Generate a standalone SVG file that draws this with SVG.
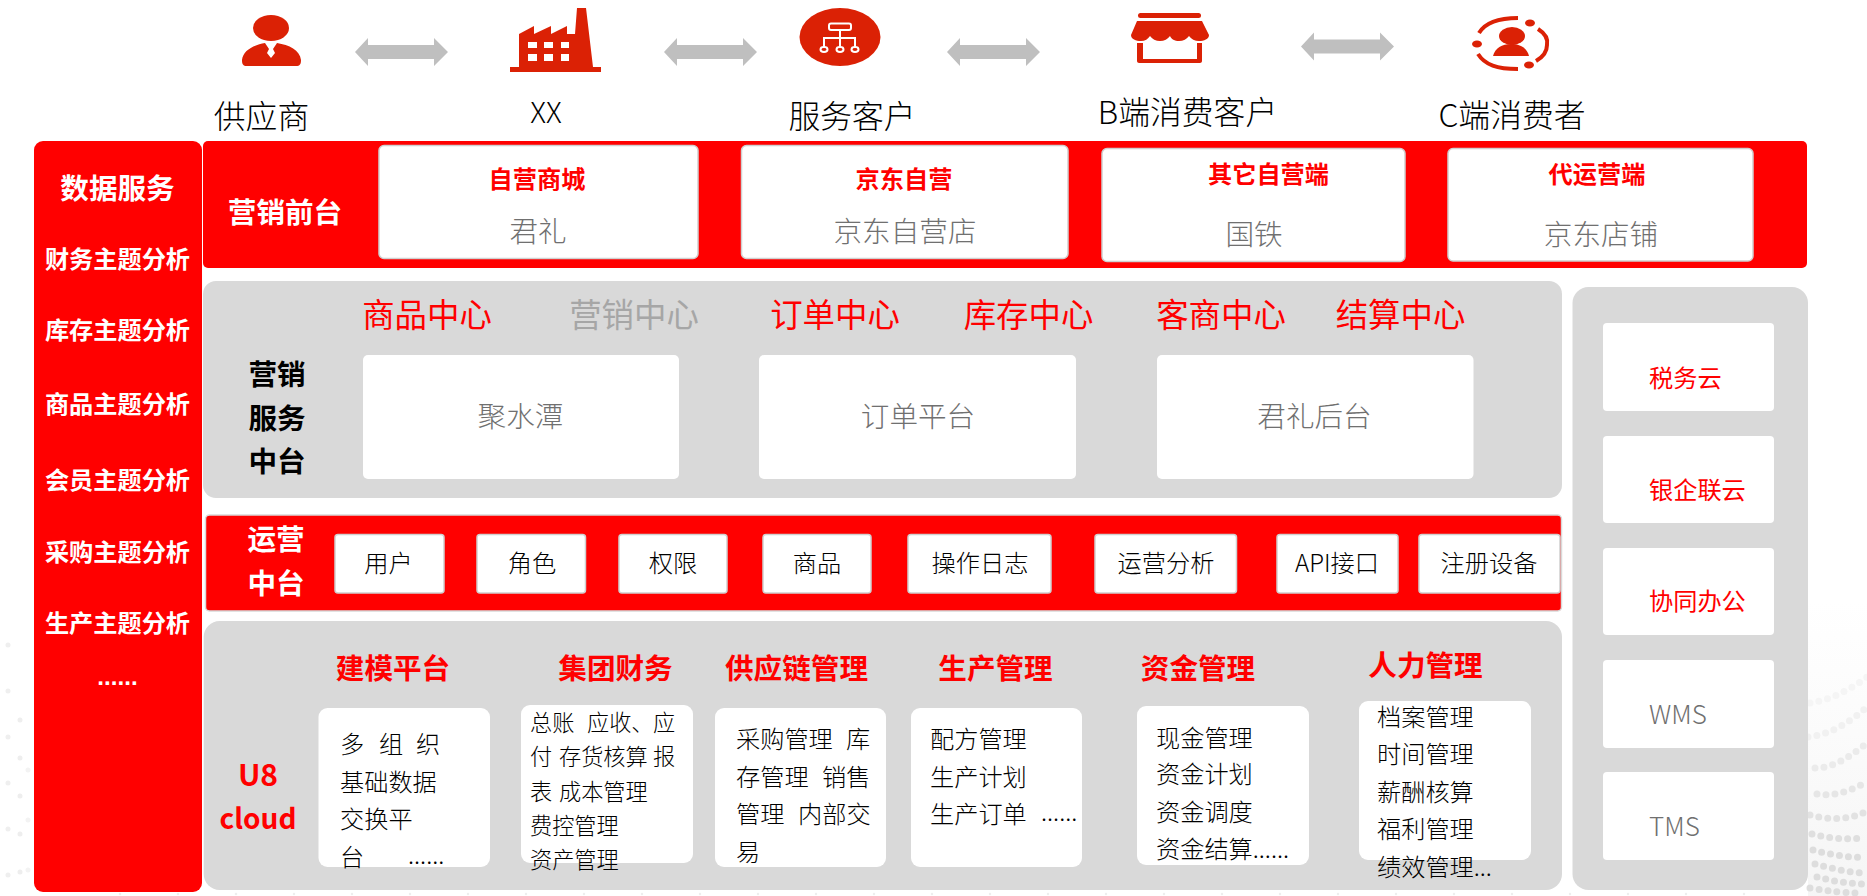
<svg xmlns="http://www.w3.org/2000/svg" width="1867" height="896" viewBox="0 0 1867 896">
<defs>
<style>
text{font-family:"Noto Sans CJK SC","Liberation Sans",sans-serif;dominant-baseline:central;transform:translate(-1px,-2px)}
.m{text-anchor:middle;transform:translateY(-2px)}
.s24{font-size:24.2px}.s22{font-size:22.2px}.s28{font-size:28.6px}.s32{font-size:32.4px;transform:translateY(-3px)}
.hd{font-size:31.8px;transform:translateY(-3px)}
.lat{font-size:26px}
.lt{font-weight:300}
.b{font-weight:700}
.red{fill:#f00}.wh{fill:#fff}.gy{fill:#707070}.bk{fill:#000}.lg{fill:#a6a6a6}
.ic{fill:#db2105}
.wbox{fill:#fff}
.wb2{fill:#fff;stroke:#d0d0d0;stroke-width:1.5}
.panel{fill:#d9d9d9}
.redp{fill:#f00}
.arr{fill:#bfbfbf}
.wave{fill:none;stroke-linecap:round;stroke-width:7;stroke-dasharray:0 9}
</style>
<linearGradient id="fade" x1="0" y1="0" x2="0" y2="1"><stop offset="0" stop-color="#f7f7f7" stop-opacity="0"/><stop offset="1" stop-color="#f5f5f5"/></linearGradient>
<polygon id="dbl" points="0,14 13,0 13,7 79,7 79,0 93,14 79,28 79,21 13,21 13,28"/>
</defs>
<rect width="1867" height="896" fill="#fff"/>
<g id="background-texture">
<rect x="1808" y="600" width="59" height="296" fill="url(#fade)"/>
<g class="wave">
<path stroke="#f5f5f5" d="M1810 703C1830 700 1850 690 1867 677"/>
<path stroke="#f1f1f1" d="M1808 737C1830 735 1850 722 1867 707"/>
<path stroke="#ebebeb" d="M1815 768C1835 768 1852 755 1867 743"/>
<path stroke="#e6e6e6" d="M1817 794C1835 797 1852 790 1867 782"/>
<path stroke="#e2e2e2" d="M1810 815C1828 820 1848 820 1863 813"/>
<path stroke="#dfdfdf" d="M1812 834C1828 838 1845 840 1860 838"/>
<path stroke="#dddddd" d="M1813 850C1828 854 1848 858 1863 857"/>
<path stroke="#dddddd" d="M1815 864C1830 868 1850 873 1867 873"/>
<path stroke="#dddddd" d="M1817 877C1832 881 1850 884 1867 884"/>
<path stroke="#dddddd" d="M1810 888C1828 891 1845 893 1860 893"/>
</g>
<g fill="none" stroke-linecap="round" stroke-width="5">
<path stroke="#efefef" stroke-dasharray="0 46" d="M8 645V890"/>
<path stroke="#eeeeee" stroke-dasharray="0 38" d="M20 720V890"/>
<path stroke="#f3f3f3" stroke-dasharray="0 50" d="M28 770V890"/>
<path stroke="#eeeeee" stroke-width="2.500" stroke-dasharray="0 58" d="M120 894H1800"/>
</g>
</g>

<g id="top-supplier">
<ellipse class="ic" cx="271" cy="28" rx="18" ry="13"/>
<path class="ic" d="M242 60C243 50 254 45 265 43L269 49L267 53L271 58L275 53L273 49L277 43C289 45 300 50 301 60C301 64 300 66 296 66L247 66C243 66 242 64 242 60Z"/>
<text class="hd lt bk m" x="261.500" y="117">供应商</text>
</g>
<g id="top-xx">
<path class="ic" fill-rule="evenodd" d="M510 67H519V34L534 26V34L551 26V34L567 26V34L575 34L577 8H586L593 67H601V72H510ZM528 42V48H537V42ZM544 42V48H553V42ZM561 42V48H569V42ZM528 54V61H537V54ZM544 54V61H553V54ZM561 54V61H569V54Z"/>
<text class="lt bk m" font-size="29" x="546" y="112">XX</text>
</g>
<g id="top-service">
<ellipse class="ic" cx="840" cy="37" rx="40.5" ry="29"/>
<g fill="none" stroke="#fff" stroke-width="2">
<rect x="829" y="23.500" width="22" height="6.500" rx="2"/>
<path d="M840 30V38M824 47V38H855V47M840 38V47"/>
<ellipse cx="824" cy="49.500" rx="3.500" ry="2.400"/><ellipse cx="840" cy="49.500" rx="3.500" ry="2.400"/><ellipse cx="855" cy="49.500" rx="3.500" ry="2.400"/>
</g>
<text class="hd lt bk m" x="852" y="117">服务客户</text>
</g>
<g id="top-b">
<rect class="ic" x="1138" y="13" width="63" height="5" rx="2.500"/>
<path class="ic" d="M1137 21H1202L1209 35C1209 39 1204 41 1199 41C1195 41 1191 39 1189 36C1187 39 1183 41 1179 41C1175 41 1171 39 1170 36C1168 39 1164 41 1160 41C1156 41 1152 39 1150 36C1148 39 1145 41 1141 41C1136 41 1131 39 1131 35Z"/>
<path class="ic" d="M1137 43H1143V59H1197V43H1202V61C1202 62 1201 63 1200 63H1139C1138 63 1137 62 1137 61Z"/>
<text class="hd lt bk m" x="1187.500" y="112.500">B端消费客户</text>
</g>
<g id="top-c">
<ellipse class="ic" cx="1512" cy="36" rx="13" ry="9"/>
<path class="ic" d="M1493 56C1495 48 1502 44 1511 44C1520 44 1527 48 1529 56Z"/>
<g fill="none" stroke="#db2105" stroke-width="4">
<path d="M1479 33C1485 23 1497 18 1518 18"/>
<path d="M1538 29C1546 34 1548 40 1547 45C1547 52 1543 57 1536 61"/>
<path d="M1478 54C1485 65 1497 69 1518 69"/>
</g>
<ellipse class="ic" cx="1530" cy="23" rx="5" ry="3.500"/>
<ellipse class="ic" cx="1477" cy="44" rx="5" ry="3.500"/>
<ellipse class="ic" cx="1529" cy="65" rx="5" ry="3.500"/>
<text class="hd lt bk m" x="1512" y="116">C端消费者</text>
</g>

<g id="connectors" class="arr">
<use href="#dbl" x="355" y="38"/>
<use href="#dbl" x="664" y="38"/>
<use href="#dbl" x="947" y="38"/>
<use href="#dbl" x="1301" y="32.500"/>
</g>

<g id="data-service">
<rect class="redp" x="34" y="141" width="168" height="751" rx="9"/>
<text class="s28 b wh m" x="117.500" y="188">数据服务</text>
<text class="s24 b wh m" x="117.500" y="259">财务主题分析</text>
<text class="s24 b wh m" x="117.500" y="330.500">库存主题分析</text>
<text class="s24 b wh m" x="117.500" y="404.500">商品主题分析</text>
<text class="s24 b wh m" x="117.500" y="480">会员主题分析</text>
<text class="s24 b wh m" x="117.500" y="552">采购主题分析</text>
<text class="s24 b wh m" x="117.500" y="623">生产主题分析</text>
<text class="s24 b wh m" x="117.500" y="678" style="font-family:'Liberation Sans',sans-serif">......</text>
</g>

<g id="marketing-front">
<rect class="redp" x="203" y="141" width="1604" height="127" rx="5"/>
<text class="s28 b wh m" x="285" y="212">营销前台</text>
<g id="f1"><rect class="wb2" x="379" y="145.500" width="319" height="113" rx="5"/>
<text class="s24 b red m" x="537" y="179">自营商城</text><text class="s28 lt gy m" x="538" y="231">君礼</text></g>
<g id="f2"><rect class="wb2" x="741.500" y="145.500" width="326.500" height="113" rx="5"/>
<text class="s24 b red m" x="904" y="179">京东自营</text><text class="s28 lt gy m" x="905" y="231">京东自营店</text></g>
<g id="f3"><rect class="wb2" x="1102" y="148.500" width="303" height="113" rx="5"/>
<text class="s24 b red m" x="1268.500" y="174">其它自营端</text><text class="s28 lt gy m" x="1254" y="234">国铁</text></g>
<g id="f4"><rect class="wb2" x="1448" y="148.500" width="305" height="112.500" rx="5"/>
<text class="s24 b red m" x="1597" y="174">代运营端</text><text class="s28 lt gy m" x="1601" y="234">京东店铺</text></g>
</g>

<g id="marketing-middle">
<rect class="panel" x="203" y="281" width="1359" height="217" rx="13"/>
<text class="s32 red m" x="427" y="315">商品中心</text>
<text class="s32 lg m" x="634" y="315">营销中心</text>
<text class="s32 red m" x="835" y="315">订单中心</text>
<text class="s32 red m" x="1028.500" y="315">库存中心</text>
<text class="s32 red m" x="1221" y="315">客商中心</text>
<text class="s32 red m" x="1400.500" y="315">结算中心</text>
<text class="s28 b bk m" x="277" y="374">营销</text>
<text class="s28 b bk m" x="277" y="418">服务</text>
<text class="s28 b bk m" x="277" y="461">中台</text>
<g id="m1"><rect class="wbox" x="363" y="355" width="316" height="124" rx="5"/><text class="s28 lt gy m" x="520.500" y="416.500">聚水潭</text></g>
<g id="m2"><rect class="wbox" x="759" y="355" width="317" height="124" rx="5"/><text class="s28 lt gy m" x="918" y="416.500">订单平台</text></g>
<g id="m3"><rect class="wbox" x="1157" y="355" width="316.500" height="124" rx="5"/><text class="s28 lt gy m" x="1314.500" y="416.500">君礼后台</text></g>
</g>

<g id="ops-middle">
<rect class="redp" x="205.500" y="515" width="1356" height="96" rx="4" stroke="#d9d9d9" stroke-width="1.500"/>
<text class="s28 b wh m" x="276" y="539.500">运营</text>
<text class="s28 b wh m" x="276" y="583">中台</text>
<g id="o1"><rect class="wb2" x="335" y="534.500" width="109" height="58.500" rx="3"/><text class="s24 lt bk m" x="388.500" y="563">用户</text></g>
<g id="o2"><rect class="wb2" x="477" y="534.500" width="108.500" height="58.500" rx="3"/><text class="s24 lt bk m" x="532" y="563">角色</text></g>
<g id="o3"><rect class="wb2" x="619" y="534.500" width="108" height="58.500" rx="3"/><text class="s24 lt bk m" x="673" y="563">权限</text></g>
<g id="o4"><rect class="wb2" x="763" y="534.500" width="108" height="58.500" rx="3"/><text class="s24 lt bk m" x="817" y="563">商品</text></g>
<g id="o5"><rect class="wb2" x="908" y="534.500" width="143" height="58.500" rx="3"/><text class="s24 lt bk m" x="980" y="563">操作日志</text></g>
<g id="o6"><rect class="wb2" x="1095" y="534.500" width="141.500" height="58.500" rx="3"/><text class="s24 lt bk m" x="1166" y="563">运营分析</text></g>
<g id="o7"><rect class="wb2" x="1277" y="534.500" width="121" height="58.500" rx="3"/><text class="s24 lt bk m" x="1337" y="563">API接口</text></g>
<g id="o8"><rect class="wb2" x="1419" y="534.500" width="141" height="58.500" rx="3"/><text class="s24 lt bk m" x="1489" y="563">注册设备</text></g>
</g>

<g id="u8cloud">
<rect class="panel" x="203.700" y="621" width="1358.300" height="269" rx="16"/>
<text class="b red m" font-size="30" x="258" y="775">U8</text>
<text class="b red m" font-size="28" x="258" y="819">cloud</text>
<g id="u1"><text class="s28 b red m" x="393" y="668">建模平台</text>
<rect class="wbox" x="318.500" y="708" width="171.500" height="159" rx="9"/>
<text class="s24 lt bk" x="341" y="744">多</text><text class="s24 lt bk" x="380" y="744">组</text><text class="s24 lt bk" x="417" y="744">织</text>
<text class="s24 lt bk" x="341" y="782">基础数据</text><text class="s24 lt bk" x="341" y="819">交换平</text><text class="s24 lt bk" x="341" y="857">台</text>
<text class="s24 lt bk" x="409" y="855">......</text></g>
<g id="u2"><text class="s28 b red m" x="615.500" y="668">集团财务</text>
<rect class="wbox" x="521" y="705" width="172" height="158" rx="9"/>
<text class="s22 lt bk" x="531" y="723">总账</text><text class="s22 lt bk" x="588" y="723">应收、</text><text class="s22 lt bk" x="654" y="723">应</text>
<text class="s22 lt bk" x="531" y="757">付</text><text class="s22 lt bk" x="560" y="757">存货核算</text><text class="s22 lt bk" x="654" y="757">报</text>
<text class="s22 lt bk" x="531" y="792">表</text><text class="s22 lt bk" x="560" y="792">成本管理</text>
<text class="s22 lt bk" x="531" y="826">费控管理</text>
<text class="s22 lt bk" x="531" y="860">资产管理</text></g>
<g id="u3"><text class="s28 b red m" x="796.500" y="668">供应链管理</text>
<rect class="wbox" x="715" y="708" width="171" height="159" rx="9"/>
<text class="s24 lt bk" x="737" y="739">采购管理</text><text class="s24 lt bk" x="847" y="739">库</text>
<text class="s24 lt bk" x="737" y="777">存管理</text><text class="s24 lt bk" x="823" y="777">销售</text>
<text class="s24 lt bk" x="737" y="814">管理</text><text class="s24 lt bk" x="799" y="814">内部交</text>
<text class="s24 lt bk" x="737" y="852">易</text></g>
<g id="u4"><text class="s28 b red m" x="995.500" y="668">生产管理</text>
<rect class="wbox" x="911" y="708" width="171" height="159" rx="9"/>
<text class="s24 lt bk" x="931" y="739">配方管理</text><text class="s24 lt bk" x="931" y="777">生产计划</text><text class="s24 lt bk" x="931" y="814">生产订单</text>
<text class="s24 lt bk" x="1042" y="812">......</text></g>
<g id="u5"><text class="s28 b red m" x="1198" y="668">资金管理</text>
<rect class="wbox" x="1137" y="706" width="172" height="159" rx="9"/>
<text class="s24 lt bk" x="1157" y="738">现金管理</text><text class="s24 lt bk" x="1157" y="774">资金计划</text><text class="s24 lt bk" x="1157" y="812">资金调度</text><text class="s24 lt bk" x="1157" y="849">资金结算......</text></g>
<g id="u6"><text class="s28 b red m" x="1425.500" y="665.500">人力管理</text>
<rect class="wbox" x="1359" y="701" width="172" height="159" rx="9"/>
<text class="s24 lt bk" x="1378" y="717">档案管理</text><text class="s24 lt bk" x="1378" y="754">时间管理</text><text class="s24 lt bk" x="1378" y="792">薪酬核算</text><text class="s24 lt bk" x="1378" y="829">福利管理</text><text class="s24 lt bk" x="1378" y="867">绩效管理...</text></g>
</g>

<g id="cloud-services">
<rect class="panel" x="1572.500" y="287" width="235.500" height="603" rx="16"/>
<g id="c1"><rect class="wbox" x="1603" y="323" width="171" height="88" rx="4"/><text class="s24 red" x="1650" y="378">税务云</text></g>
<g id="c2"><rect class="wbox" x="1603" y="436" width="171" height="87" rx="4"/><text class="s24 red" x="1650" y="490">银企联云</text></g>
<g id="c3"><rect class="wbox" x="1603" y="548" width="171" height="87" rx="4"/><text class="s24 red" x="1650" y="601">协同办公</text></g>
<g id="c4"><rect class="wbox" x="1603" y="660" width="171" height="88" rx="4"/><text class="lat lt gy" x="1650" y="714">WMS</text></g>
<g id="c5"><rect class="wbox" x="1603" y="772" width="171" height="88" rx="4"/><text class="lat lt gy" x="1650" y="826">TMS</text></g>
</g>
</svg>
